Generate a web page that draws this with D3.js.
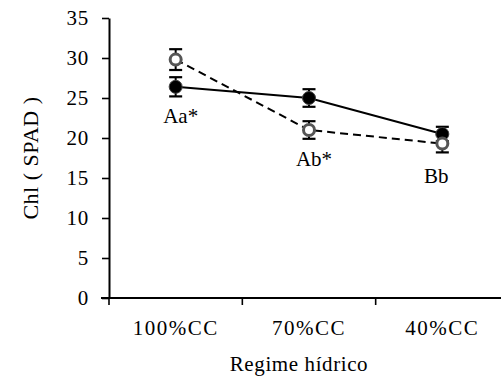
<!DOCTYPE html>
<html>
<head>
<meta charset="utf-8">
<script src="https://d3js.org/d3.v7.min.js"></script>
<style>
  body { margin: 0; background: #fff; }
  text { font-family: "Liberation Serif", "Times New Roman", serif; fill: #000; }
</style>
</head>
<body>
<svg id="chart" width="501" height="383"></svg>
<script>
var categories = ["100%CC", "70%CC", "40%CC"];
var filledMean = [26.4, 25.0, 20.5];
var filledErr = [1.2, 1.1, 0.9];
var openMean = [29.8, 21.0, 19.3];
var openErr = [1.3, 1.1, 1.1];
var letters = ["Aa*", "Ab*", "Bb"];
var yTicks = [0, 5, 10, 15, 20, 25, 30, 35];

var margin = {top: 18, left: 109, bottom: 85};
var width = 400, height = 280;

var svg = d3.select("#chart");
var g = svg.append("g").attr("transform", "translate(" + margin.left + "," + margin.top + ")");

var x = d3.scaleBand().domain(categories).range([0, width]);
var y = d3.scaleLinear().domain([0, 35]).range([height, 0]);
var cx = function(d, i) { return x(categories[i]) + x.bandwidth() / 2; };

// axes
var yAxis = g.append("g")
	.call(d3.axisLeft(y).tickValues(yTicks).tickSize(7).tickSizeOuter(0).tickPadding(13));
yAxis.select(".domain").attr("stroke-width", 2);
yAxis.selectAll(".tick line").attr("stroke-width", 1.6);
yAxis.selectAll("text").style("font-size", "21px").style("letter-spacing", "0.8px");

var xAxis = g.append("g").attr("transform", "translate(0," + height + ")")
	.call(d3.axisBottom(x).tickSize(0).tickPadding(22));
xAxis.select(".domain").attr("stroke-width", 2).attr("d", "M-8,0H" + width);
xAxis.selectAll("text").style("font-size", "21px").style("letter-spacing", "1.5px");
xAxis.selectAll(".bound").data(categories).enter().append("line")
	.attr("x1", function(d) { return x(d); }).attr("x2", function(d) { return x(d); })
	.attr("y1", 0).attr("y2", 7).attr("stroke", "#000").attr("stroke-width", 1.6);

// axis titles
svg.append("text").attr("transform", "translate(38," + (margin.top + height / 2) + ") rotate(-90)")
	.attr("text-anchor", "middle").style("font-size", "22px").style("letter-spacing", "0.5px")
	.text("Chl ( SPAD )");
svg.append("text").attr("x", margin.left + 190).attr("y", 371)
	.attr("text-anchor", "middle").style("font-size", "21px").style("letter-spacing", "0.6px")
	.text("Regime hídrico");

// lines
var line = d3.line().x(cx).y(function(d) { return y(d); });
g.append("path").datum(openMean).attr("d", line).attr("fill", "none")
	.attr("stroke", "#000").attr("stroke-width", 2).attr("stroke-dasharray", "8,5");
g.append("path").datum(filledMean).attr("d", line).attr("fill", "none")
	.attr("stroke", "#000").attr("stroke-width", 2);

function errorBars(mean, err) {
	var eb = g.append("g");
	eb.selectAll("line.v").data(mean).enter().append("line")
		.attr("x1", cx).attr("x2", cx)
		.attr("y1", function(d, i) { return y(d + err[i]); })
		.attr("y2", function(d, i) { return y(d - err[i]); })
		.attr("stroke", "#000").attr("stroke-width", 2);
	[1, -1].forEach(function(s) {
		eb.selectAll("line.c" + s).data(mean).enter().append("line")
			.attr("x1", function(d, i) { return cx(d, i) - 6.5; })
			.attr("x2", function(d, i) { return cx(d, i) + 6.5; })
			.attr("y1", function(d, i) { return y(d + s * err[i]); })
			.attr("y2", function(d, i) { return y(d + s * err[i]); })
			.attr("stroke", "#000").attr("stroke-width", 2.2);
	});
}
errorBars(filledMean, filledErr);
errorBars(openMean, openErr);

g.selectAll(".filled").data(filledMean).enter().append("circle")
	.attr("cx", cx).attr("cy", function(d) { return y(d); }).attr("r", 6.5)
	.attr("fill", "#000").attr("stroke", "#444").attr("stroke-width", 1);
g.selectAll(".open").data(openMean).enter().append("circle")
	.attr("cx", cx).attr("cy", function(d) { return y(d); }).attr("r", 5.5)
	.attr("fill", "#fff").attr("stroke", "#555").attr("stroke-width", 3);

// significance letters
var labelY = [123, 166, 183];
var labelDx = [5, 5, -6];
g.selectAll(".lbl").data(letters).enter().append("text")
	.attr("x", function(d, i) { return cx(d, i) + labelDx[i]; })
	.attr("y", function(d, i) { return labelY[i] - margin.top; })
	.attr("text-anchor", "middle").style("font-size", "21px").text(function(d) { return d; });
</script>
</body>
</html>
